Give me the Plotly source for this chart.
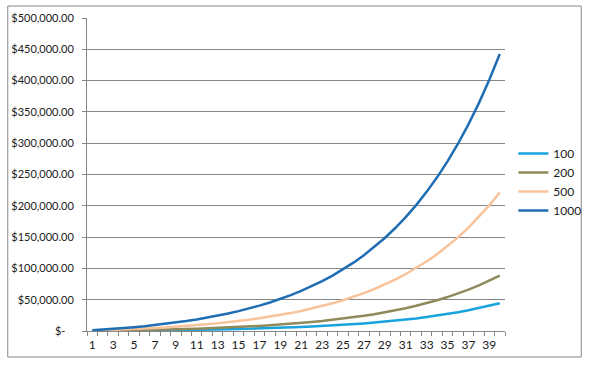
import plotly.graph_objects as go

periods = list(range(1, 41))

s100 = [100, 210, 330, 460, 610, 770, 950, 1140, 1360, 1590, 1850, 2140, 2450, 2800, 3180,
        3600, 4050, 4560, 5120, 5730, 6400, 7140, 7950, 8850, 9830, 10920, 12110, 13420, 14860,
        16450, 18190, 20110, 22230, 24550, 27100, 29910, 33000, 36400, 40100, 44300]
s200 = [200, 420, 660, 930, 1220, 1540, 1900, 2290, 2720, 3190, 3710, 4280, 4900, 5600, 6350,
        7190, 8110, 9120, 10230, 11460, 12800, 14280, 15910, 17700, 19670, 21840, 24220, 26840,
        29730, 32900, 36390, 40230, 44450, 49100, 54200, 59800, 66000, 72800, 80300, 88500]
s500 = [500, 1050, 1650, 2300, 3050, 3860, 4740, 5720, 6790, 7970, 9270, 10700, 12300, 14000,
        15900, 18000, 20300, 22800, 25600, 28600, 32000, 35700, 39800, 44200, 49200, 54600,
        60500, 67100, 74300, 82200, 91000, 100600, 111100, 122700, 135500, 149600, 165000,
        182000, 200700, 221300]
s1000 = [1000, 2100, 3310, 4640, 6100, 7720, 9490, 11440, 13580, 15940, 18530, 21380, 24520,
         27980, 31770, 35950, 40550, 45600, 51160, 57280, 64000, 71400, 79540, 88500, 98350,
         109180, 121100, 134210, 148630, 164490, 181940, 201140, 222250, 245480, 271020,
         299130, 330040, 364040, 401450, 442590]

series_names = ["100", "200", "500", "1000"]
series_values = [s100, s200, s500, s1000]
colors = ["#18A3DE", "#8F8A5C", "#F8C39A", "#1F6DB3"]

y_tickvals = [0, 50000, 100000, 150000, 200000, 250000, 300000, 350000, 400000, 450000, 500000]
y_ticktext = ["$-\u00a0\u00a0\u00a0"] + ["${:,.2f}".format(v) for v in y_tickvals[1:]]
x_tickvals = list(range(1, 41, 2))

fig = go.Figure()
for name, vals, col in zip(series_names, series_values, colors):
    fig.add_trace(go.Scatter(x=periods, y=vals, name=name, mode="lines",
                             line=dict(color=col, width=2.5)))

grid = "#868686"
fam = "Lato, Open Sans, sans-serif"
font = dict(family=fam, size=12, color="#1a1a1a")

fig.update_layout(
    width=598, height=366,
    margin=dict(l=87, r=89, t=18, b=35),
    paper_bgcolor="white", plot_bgcolor="white",
    font=font,
    showlegend=True,
    legend=dict(x=1.02, y=(331 - 182) / 313, xanchor="left", yanchor="middle",
                font=dict(family=fam, size=12, color="#1a1a1a"),
                bgcolor="rgba(0,0,0,0)", borderwidth=0, tracegroupgap=0),
    xaxis=dict(range=[0.5, 40.5], tickmode="array", tickvals=x_tickvals,
               ticktext=[str(v) for v in x_tickvals], ticks="", showgrid=False,
               showline=True, linecolor=grid, linewidth=1, zeroline=False,
               ticklabelstandoff=3, automargin=False,
               tickfont=dict(family=fam, size=12, color="#1a1a1a"),
               minor=dict(tickmode="array", tickvals=[i + 0.5 for i in range(0, 41)],
                          ticks="outside", ticklen=4, tickcolor=grid, showgrid=False),
               fixedrange=True),
    yaxis=dict(range=[0, 500000], tickmode="array", tickvals=y_tickvals, ticktext=y_ticktext,
               ticks="outside", ticklen=4, tickcolor=grid, showgrid=True, gridcolor=grid,
               gridwidth=1, showline=True, linecolor=grid, linewidth=1, zeroline=False,
               ticklabelstandoff=6, automargin=False,
               tickfont=dict(family=fam, size=11, color="#1a1a1a"),
               fixedrange=True),
    shapes=[dict(type="rect", xref="paper", yref="paper",
                 x0=(7 - 87) / 422, x1=(586 - 87) / 422,
                 y0=(331 - 357) / 313, y1=(331 - 6) / 313,
                 line=dict(color=grid, width=1), fillcolor="rgba(0,0,0,0)", layer="below")],
)

fig.write_html("out.html", config={"displayModeBar": False})
